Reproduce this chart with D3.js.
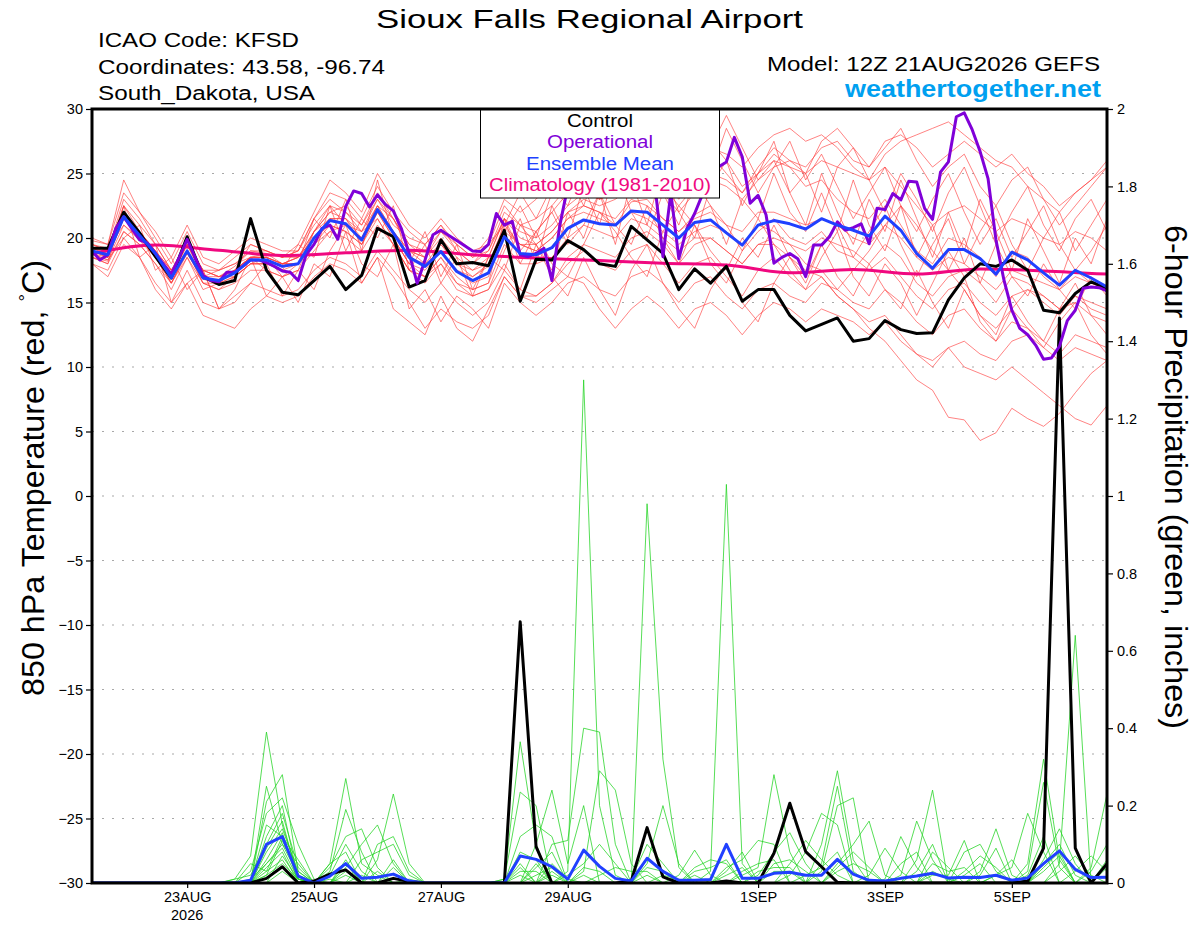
<!DOCTYPE html>
<html>
<head>
<meta charset="utf-8">
<script src="https://cdn.jsdelivr.net/npm/d3@7"></script>
<style>
  body { margin: 0; background: #fff; }
  svg { display: block; font-family: "Liberation Sans", Arial, Helvetica, sans-serif; }
</style>
</head>
<body>
<svg id="chart" width="1200" height="927"></svg>
<script>
// ---- data (6-hourly from 12Z 21AUG2026) ----

// control run, 850 hPa temperature (C)
var controlTemp = [19.2,19.2,22.0,20.4,18.55,16.9,20.1,17.0,16.4,16.7,
  21.5,17.5,15.8,15.6,16.7,17.8,16.0,17.1,20.75,20.1,
  16.2,16.7,19.85,18.0,18.1,17.85,20.6,15.1,18.35,18.3,
  19.8,19.1,18.0,17.8,20.9,19.85,18.8,16.0,17.6,16.5,
  17.8,15.1,16.0,16.0,14.0,12.8,13.3,13.8,12.0,12.2,
  13.6,12.9,12.6,12.65,15.2,16.9,18.0,17.8,18.3,17.5,
  14.4,14.2,15.7,16.6,16.1];

// ensemble mean temperature (C)
var meanTemp = [19.0,18.7,21.65,20.2,18.8,16.9,19.0,16.9,16.7,17.3,
  18.3,18.3,17.8,18.0,20.0,21.35,21.1,19.85,22.2,20.4,
  18.5,17.8,18.95,17.4,16.7,17.3,20.1,18.8,18.7,19.25,
  20.75,21.4,21.1,21.0,22.1,22.0,21.0,20.0,21.2,21.4,
  20.4,19.45,21.0,21.35,21.1,20.7,21.5,21.0,20.6,20.15,
  21.7,20.6,18.8,17.65,19.1,19.1,18.4,17.2,18.9,18.3,
  17.3,16.35,17.5,16.9,16.2];

// operational run, 3-hourly (C)
var operTemp = [19.0,18.3,18.7,20.75,21.65,20.75,19.85,19.6,18.8,18.0,
  17.2,18.5,19.9,18.5,17.1,16.7,16.6,17.35,17.35,17.8,
  18.3,18.3,18.1,17.8,17.45,17.35,16.7,18.7,19.5,20.75,
  21.0,19.9,22.45,23.65,23.45,22.4,23.35,22.6,22.1,20.75,
  18.8,16.5,18.3,20.25,20.6,20.2,19.8,19.4,19.0,18.95,
  19.5,21.9,21.0,21.3,18.7,18.55,18.8,19.2,16.7,21.0,
  24.0,25.5,26.0,25.2,24.5,25.8,26.5,25.0,24.2,25.5,
  26.8,24.0,18.55,23.5,18.4,20.7,21.9,23.4,24.8,25.5,
  25.9,27.8,26.3,22.7,23.3,21.8,18.05,18.5,18.8,18.4,
  17.0,19.45,19.45,20.1,21.25,20.6,20.8,21.1,19.55,22.3,
  22.2,23.45,22.95,24.4,24.35,22.3,21.45,25.1,25.9,29.4,
  29.7,28.4,26.7,24.6,19.85,16.75,14.4,13.0,12.5,11.7,
  10.6,10.7,11.6,13.6,14.4,16.1,16.2,16.15,15.9];

// climatology 1981-2010, daily (C)
var climTemp = [18.8,19.45,19.05,18.65,18.85,19.05,18.7,18.45,18.25,
  18.05,17.9,17.3,17.55,17.2,17.6,17.45,17.2];

// control 6-hour precipitation (in)
var controlPrecip = [0,0,0,0,0,0,0,0,0,0,
  0,0.012,0.042,0,0.005,0.023,0.034,0,0,0.012,
  0.004,0,0,0,0,0,0,0.675,0.094,0,
  0,0,0,0,0.005,0.143,0.016,0,0,0,
  0.005,0,0,0.077,0.206,0.081,0.042,0.002,0,0,
  0,0,0,0,0,0,0,0,0,0.005,
  0.09,1.46,0.09,0,0.05];

// ensemble mean 6-hour precipitation (in)
var meanPrecip = [0,0,0,0,0,0,0,0,0,0,
  0.007,0.10,0.12,0.018,0,0.018,0.05,0.012,0.015,0.023,
  0.005,0,0,0,0,0,0,0.07,0.061,0.042,
  0.01,0.085,0.043,0.012,0.005,0.064,0.03,0.007,0.007,0.009,
  0.10,0.012,0.012,0.025,0.028,0.02,0.02,0.061,0.023,0.007,
  0.005,0.012,0.018,0.025,0.013,0.015,0.014,0.02,0.007,0.013,
  0.05,0.083,0.035,0.014,0.015];

// ensemble members, temperature (C)
var tempMembers = [
  [19.5,19.0,23.0,21.5,19.5,17.5,19.8,17.5,17.0,17.8,19.0,18.8,18.0, 18.5,20.5,22.0,22.5,21.0,23.5,21.5,19.0,18.0,19.5,18.0,17.0,17.8, 20.8,19.5,19.0,20.0,21.5,22.5,22.0,21.0,22.8,23.0,21.5,20.5,21.8,22.5,21.0,19.0,20.5,21.5,20.0,19.5, 20.5,19.0,18.5,17.5,18.5,17.0,15.5,14.5,16.0,16.5,15.0,14.0,15.5,16.0,15.5,14.5,15.0,14.0,13.5],
  [18.5,18.0,20.5,19.5,18.0,16.5,18.5,16.0,16.5,17.5,19.5,19.0,18.5, 19.0,21.5,23.0,22.0,20.5,23.0,21.0,20.0,19.5,21.0,19.0,18.0,19.5, 22.5,21.0,20.5,22.0,23.5,24.5,23.0,24.0,25.5,26.0,24.5,23.0,25.0,26.5,25.0,23.5,25.5,27.0,26.0,25.0, 27.5,28.5,27.0,25.5,27.0,28.5,26.0,24.0,25.5,26.5,24.0,22.5,24.5,25.5,23.0,21.0,22.5,24.0,25.5],
  [18.0,17.5,20.0,18.5,16.5,15.0,17.5,15.0,14.5,15.5,16.5,16.0,15.5, 16.0,17.5,18.5,18.0,17.0,19.0,17.5,16.0,15.0,16.5,15.0,14.0,15.0, 17.5,16.0,15.5,16.5,18.0,19.0,18.0,17.5,19.0,19.5,18.0,16.5,18.0,18.5,17.0,15.5,17.5,18.5,17.0,16.0, 17.0,15.5,14.5,13.5,14.0,12.5,11.0,10.5,11.5,10.0,9.5,9.0,10.0,9.0,8.0,7.0,6.0,5.5,7.0],
  [19.2,18.8,22.5,20.5,19.0,17.0,19.5,17.5,17.0,17.0,18.0,18.5,17.0, 17.5,20.5,22.5,21.0,20.0,22.5,21.5,19.5,18.5,20.5,19.5,18.5,20.0, 23.0,22.0,23.0,24.5,26.0,27.5,26.5,25.5,27.0,28.5,27.0,25.0,26.5,27.5,26.0,24.0,25.0,26.5,25.5,24.0, 24.5,23.0,22.0,21.5,23.0,21.0,19.0,18.0,20.0,19.5,18.5,17.0,19.0,18.5,17.0,16.0,17.5,16.5,16.0],
  [19.5,19.2,21.0,20.0,19.0,17.5,18.8,17.0,17.5,18.0,18.5,17.5,17.0, 18.0,19.5,20.5,21.0,20.5,21.5,19.5,17.5,16.5,18.0,16.0,15.5,16.0, 19.0,21.5,18.0,22.5,20.0,24.0,21.0,25.5,22.0,20.0,23.5,21.0,24.5,22.5,19.5,23.0,21.5,25.0,22.0,20.5, 23.5,20.5,24.5,21.0,19.0,22.5,18.5,21.0,17.5,20.0,16.5,19.5,17.0,15.5,18.0,16.0,14.5,17.0,15.5],
  [19.0,18.5,21.5,20.5,18.5,16.5,19.0,16.5,16.0,17.0,18.0,18.0,18.0, 18.5,20.0,21.5,21.5,19.5,22.0,20.0,18.0,17.0,18.5,17.0,16.0,16.5, 19.5,18.0,18.0,18.5,20.0,21.0,20.5,20.0,21.5,21.0,20.0,19.0,20.0,20.0,19.0,18.0,19.5,19.5,18.5,17.5, 17.0,15.5,14.5,13.0,12.0,10.5,9.0,8.2,6.1,5.9,4.3,4.9,6.8,6.0,5.4,6.4,8.0,9.5,10.5],
  [20.0,19.5,24.5,22.0,20.0,18.0,20.5,18.0,17.5,18.5,19.5,19.0,18.5, 19.5,22.0,24.5,23.5,22.0,25.0,23.0,21.0,20.0,21.5,20.0,19.0,19.5, 21.0,23.5,21.5,24.0,22.5,25.5,23.0,26.5,28.0,25.5,29.0,30.5,27.5,25.0,28.5,26.0,23.5,25.5,27.5,24.5, 26.5,24.0,21.5,23.5,25.5,22.5,20.5,23.0,25.0,22.0,19.5,21.5,18.5,20.5,22.5,19.5,17.5,19.0,21.0],
  [18.5,18.0,22.5,18.5,19.5,15.0,16.5,17.5,14.5,15.0,16.5,18.0,15.5, 17.5,16.0,19.0,21.0,18.0,17.0,19.5,14.5,16.0,13.5,15.5,14.5,13.0, 16.5,15.0,14.0,15.0,16.5,17.0,16.0,15.5,17.0,17.5,16.5,15.0,16.5,17.0,15.5,14.5,16.0,16.5,15.5,15.0, 16.5,16.0,15.0,14.5,16.0,15.0,13.5,12.5,14.0,14.5,13.0,12.0,13.5,13.0,12.0,11.0,12.5,12.0,11.5],
  [19.0,18.7,22.0,20.0,18.5,17.0,19.5,17.0,16.5,17.5,18.5,18.5,18.0, 18.0,20.5,21.5,21.0,20.0,22.5,20.5,18.5,18.0,19.0,17.5,17.0,18.0, 20.5,19.5,19.5,20.5,22.0,23.0,22.5,23.0,24.0,24.5,23.5,22.0,23.5,24.5,24.0,23.0,24.5,25.5,26.0,25.5, 27.0,27.5,26.0,25.5,27.5,28.0,27.0,25.5,26.5,27.5,26.5,25.5,26.5,25.0,24.0,22.5,23.5,24.5,26.0],
  [19.3,18.5,22.0,20.5,18.8,16.5,19.0,17.0,16.5,17.0,18.0,18.0,17.5, 19.5,18.5,22.5,19.0,21.5,20.0,22.5,17.5,19.5,16.5,18.5,15.5,18.5, 17.5,21.0,19.5,17.5,22.0,20.0,23.5,19.5,24.5,21.0,25.5,22.0,20.0,24.0,26.0,22.5,25.0,27.5,23.5,21.0, 25.0,22.0,19.5,23.0,20.5,24.5,21.5,18.5,22.0,19.0,23.0,20.5,17.5,21.5,19.0,16.5,20.0,18.0,21.5],
  [18.8,18.5,21.5,20.0,18.5,17.0,19.0,16.5,16.5,17.5,18.5,18.5,18.0, 18.5,20.0,21.5,21.5,20.0,22.0,20.5,19.0,18.5,19.5,18.0,17.5,18.0, 21.0,19.5,19.0,20.0,21.5,22.0,21.5,21.0,22.0,21.5,20.5,19.5,20.5,21.0,20.5,19.5,21.0,20.5,19.5,18.0, 17.5,16.0,17.5,19.0,21.0,22.5,21.0,19.0,17.5,16.0,14.0,13.0,14.5,16.0,15.0,14.0,15.5,14.5,14.0],
  [19.5,19.0,22.5,21.0,19.5,17.5,19.5,17.5,17.5,18.0,19.0,19.0,18.5, 19.0,21.0,22.5,22.0,21.0,23.0,21.5,19.5,19.0,20.5,19.0,18.0,19.0, 22.0,21.0,21.5,22.5,24.0,25.0,25.5,26.0,27.0,27.5,26.5,25.0,26.0,27.0,26.5,25.5,27.0,28.0,28.5,27.5, 28.0,27.0,25.5,24.5,25.5,24.0,22.5,21.0,22.0,22.5,21.5,20.5,21.5,21.0,20.0,19.5,20.5,20.0,19.0],
  [18.5,18.2,20.5,19.5,18.0,16.0,18.5,16.5,16.0,16.5,17.5,17.5,17.0, 17.5,19.0,20.5,20.0,19.0,21.0,19.5,17.5,17.0,18.5,16.5,16.0,16.5, 21.5,19.0,20.5,18.0,17.0,19.5,22.0,20.5,18.5,17.0,20.5,22.5,21.0,18.0,16.5,19.0,21.5,19.5,17.5,16.0, 18.5,20.5,17.0,15.5,18.0,16.5,14.0,16.5,19.0,17.0,13.5,12.0,14.5,13.0,11.5,13.5,15.0,12.5,11.0],
  [18.0,17.0,19.5,18.5,16.0,14.5,16.5,14.0,13.5,13.0,14.5,15.5,15.0, 15.5,17.0,18.0,17.5,16.5,18.5,17.0,15.0,13.0,14.5,13.5,13.0,14.0, 17.0,15.5,15.5,16.5,18.5,19.5,19.0,18.5,20.0,20.5,19.5,18.0,19.5,20.0,19.0,18.0,19.5,20.0,19.5,19.0, 20.0,19.5,19.0,18.0,19.5,18.5,16.5,15.5,17.0,17.5,16.5,15.0,17.0,16.5,15.5,14.5,15.5,15.0,14.5],
  [19.8,19.5,23.5,22.0,20.5,18.5,21.0,18.5,18.0,19.0,20.0,19.5,19.0, 19.0,21.5,23.5,23.0,21.5,24.0,22.0,20.5,19.5,21.0,19.5,18.5,19.0, 21.5,20.0,19.5,20.5,22.0,22.5,22.0,21.5,23.0,22.5,21.5,20.5,21.5,22.0,21.0,20.5,22.0,22.0,21.5,21.0, 21.5,21.0,20.0,19.5,21.0,20.0,18.5,17.5,18.5,18.0,17.0,16.0,17.5,17.0,16.5,16.0,17.0,16.5,16.0],
  [19.0,18.8,21.5,20.0,18.8,17.0,18.8,16.8,16.5,17.0,18.0,18.0,17.5, 18.0,19.5,21.0,20.5,19.5,22.0,20.0,18.0,17.5,19.0,17.5,16.5,17.0, 20.5,22.5,20.0,23.5,25.0,22.5,26.0,24.0,27.5,25.0,28.5,26.5,24.0,27.0,29.5,27.0,24.5,26.0,23.5,25.0, 22.0,25.5,27.0,24.5,22.0,25.0,23.0,20.5,23.5,25.5,22.5,19.5,22.0,24.0,21.0,19.0,21.5,23.0,20.5],
  [18.7,18.3,20.0,21.0,17.5,18.5,16.0,17.5,14.5,16.0,18.5,15.5,17.0, 15.0,18.0,17.0,20.5,16.5,18.5,14.5,13.5,12.5,15.5,13.0,12.0,14.5, 17.0,15.5,15.0,16.0,17.0,16.5,14.5,13.0,14.5,15.5,14.5,13.0,14.5,15.0,14.0,12.5,14.0,15.0,14.5,13.5, 14.5,14.0,13.5,12.5,13.5,12.0,11.0,10.0,11.5,12.0,11.0,10.5,12.0,12.5,11.5,10.5,11.5,11.0,10.5],
  [19.2,19.0,22.0,20.5,19.0,17.0,19.5,17.0,17.0,17.5,18.5,18.5,18.0, 18.0,21.5,20.0,23.0,19.0,24.5,20.0,18.0,20.5,17.0,19.5,16.0,18.5, 21.5,18.0,20.5,22.0,19.5,21.0,23.5,21.0,19.5,22.5,20.0,18.0,21.0,19.0,17.5,20.0,18.5,21.0,18.5,16.5, 19.5,17.0,15.5,18.0,16.0,14.5,17.5,15.0,13.0,16.0,14.0,12.5,15.5,13.5,12.0,14.5,16.5,14.0,12.5],
  [19.0,18.5,22.0,20.5,19.0,17.5,19.5,17.5,17.0,17.5,18.5,18.8,18.5, 18.5,20.5,22.0,21.5,20.5,22.5,20.5,19.0,18.5,20.0,18.5,17.5,18.5, 21.5,20.5,20.0,21.0,22.5,23.5,23.0,23.5,24.5,25.0,24.0,22.5,24.0,25.0,24.5,23.5,25.0,26.0,25.5,25.0, 26.0,25.5,25.0,24.5,26.5,27.5,28.0,28.5,29.0,28.0,27.0,26.0,25.5,24.0,23.0,22.0,23.5,24.5,25.5],
  [18.8,18.3,21.0,19.8,18.5,16.5,18.8,16.8,16.8,17.5,18.5,18.5,18.0, 18.0,20.0,21.0,20.5,19.5,21.5,19.5,17.5,17.0,18.0,16.5,15.5,16.0, 18.0,16.0,19.5,17.0,15.5,18.5,16.0,14.0,17.5,19.5,16.5,14.5,13.0,16.0,18.0,15.0,13.5,16.5,18.5,17.0, 19.5,21.0,18.5,20.5,22.5,19.5,17.0,19.5,21.5,18.0,20.5,22.5,19.5,17.5,20.0,22.0,19.0,21.0,23.0]
];

// ensemble members, 6-hour precipitation (in)
var precipMembers = [
  [0,0,0,0,0,0,0,0,0,0.01, 0.07,0.39,0.15,0.02,0,0,0.02,0,0,0, 0,0,0,0,0,0,0,0,0.05,0, 0.02,0.05,0.1,0.05,0,0,0,0,0,0, 0,0,0,0.05,0.06,0.03,0,0,0,0, 0,0,0,0,0,0.08,0.1,0.03,0,0, 0,0,0,0,0],
  [0,0,0,0,0,0,0,0,0,0, 0,0.25,0.1,0.05,0,0.05,0.27,0.05,0.02,0, 0,0,0,0,0,0,0,0.05,0,0.02, 0,0,0,0,0,0,0,0.02,0.085,0.02, 0,0,0,0,0,0,0,0.03,0.05,0.03, 0,0,0,0,0,0,0,0,0,0.05, 0.32,0.06,0,0,0],
  [0,0,0,0,0,0,0,0,0,0, 0,0.21,0.28,0.03,0,0,0.03,0,0,0.06, 0,0,0,0,0,0,0,0.02,0,0, 0,0,0,0,0,0.04,0.03,0,0,0, 0,0.03,0.05,0.06,0,0,0,0,0,0, 0,0,0,0.05,0.03,0.04,0,0,0,0, 0,0,0,0.03,0.1],
  [0,0,0,0,0,0,0,0,0,0, 0.03,0.18,0.22,0.1,0.01,0,0,0,0,0, 0,0,0,0,0,0,0,0.12,0.15,0.12, 0,0,0,0,0,0,0,0,0.03,0.04, 0.06,0,0,0,0,0,0.05,0.25,0.03,0, 0,0,0,0,0,0,0,0,0,0, 0.06,0.14,0.05,0,0],
  [0,0,0,0,0,0,0,0,0,0, 0,0.15,0.12,0.02,0,0.03,0.19,0.08,0,0, 0,0,0,0,0,0,0,0,0,0.1, 0.11,0.4,0.39,0.1,0,0,0,0,0,0, 0,0,0,0,0,0,0,0,0,0, 0,0.02,0.16,0.06,0,0,0,0,0,0, 0,0,0.03,0.07,0.03],
  [0,0,0,0,0,0,0,0,0,0, 0,0.12,0.2,0.01,0,0,0,0,0.06,0.23, 0.05,0,0,0,0,0,0,0,0,0, 0,0.03,0.29,0.24,0.05,0,0,0,0,0, 0,0,0,0,0,0.02,0.04,0.08,0,0, 0,0,0,0,0,0.03,0.07,0.04,0,0, 0,0,0,0,0],
  [0,0,0,0,0,0,0,0,0,0.01, 0.02,0.1,0.18,0.04,0,0,0.05,0,0,0, 0,0,0,0,0,0,0.01,0.365,0.1,0, 0,0,0,0,0,0,0,0,0,0, 0.02,0.04,0,0,0,0,0,0,0,0.02, 0.09,0.03,0,0,0,0,0,0,0,0.02, 0.12,0,0,0,0],
  [0,0,0,0,0,0,0,0,0,0, 0,0.09,0.16,0.01,0,0,0,0.02,0,0, 0.01,0,0,0,0,0,0,0.03,0.03,0, 0,0,0,0,0,0.98,0.32,0.04,0,0, 0,0,0,0,0,0,0,0,0,0, 0,0,0.03,0.1,0,0,0,0,0,0, 0,0,0,0,0.06],
  [0,0,0,0,0,0,0,0,0,0, 0,0.08,0.14,0.03,0,0.04,0.12,0.14,0.04,0, 0,0,0,0,0,0,0,0,0,0, 0,0.04,0.03,0,0,0,0,0,0.02,0, 0,0,0.03,0.04,0.04,0,0,0,0,0, 0,0,0,0.03,0.01,0,0,0,0,0.03, 0.26,0.04,0,0,0],
  [0,0,0,0,0,0,0,0,0,0, 0,0.06,0.13,0,0,0.01,0,0,0,0, 0,0,0,0,0,0,0,0.08,0.06,0, 0,0,0,0,0.01,0.1,0.05,0,0,0, 0,0,0,0,0.02,0.08,0.18,0.15,0,0, 0,0,0,0,0,0,0.03,0.14,0.02,0, 0,0,0,0,0],
  [0,0,0,0,0,0,0,0,0,0, 0,0.05,0.1,0.02,0,0,0.04,0.1,0.15,0.05, 0,0,0,0,0,0,0,0,0.02,0.04, 0,0,0,0,0,0,0,0,0,0, 0.03,0.08,0,0,0,0,0,0.05,0.1,0.16, 0.02,0,0,0,0,0,0,0,0,0, 0.05,0.1,0.02,0,0],
  [0,0,0,0,0,0,0,0,0,0, 0.01,0.05,0.09,0.01,0,0,0,0,0.03,0, 0,0,0,0,0,0,0,0,0.04,0.08, 0,0,0,0,0,0,0.02,0.01,0,0, 0,0,0.02,0.08,0.13,0.05,0,0,0,0, 0,0,0,0.08,0.04,0,0,0,0,0, 0,0,0,0,0],
  [0,0,0,0,0,0,0,0,0,0, 0,0.04,0.08,0,0,0.02,0.1,0.03,0,0, 0,0,0,0,0,0,0,0,0,0, 0.03,1.3,0.2,0.02,0,0,0,0,0,0, 0,0,0,0,0,0,0,0.04,0.08,0.04, 0,0,0,0,0,0.02,0.05,0,0,0, 0,0,0,0.04,0.23],
  [0,0,0,0,0,0,0,0,0,0, 0,0.03,0.12,0.06,0,0,0,0,0,0, 0,0,0,0,0,0,0.01,0.235,0.2,0, 0,0,0,0,0,0,0,0,0,0.03, 1.03,0.05,0,0,0,0,0,0,0,0, 0.01,0.12,0.04,0,0,0,0,0,0,0, 0.03,0.07,0,0,0],
  [0,0,0,0,0,0,0,0,0,0, 0.05,0.03,0.06,0,0,0,0,0,0.1,0.12, 0.03,0,0,0,0,0,0,0,0,0, 0,0.02,0,0,0,0.02,0,0,0,0, 0,0,0,0,0.05,0.11,0.06,0.02,0,0, 0,0,0,0,0,0,0,0.02,0.04,0.18, 0.08,0,0,0,0],
  [0,0,0,0,0,0,0,0,0,0, 0,0.02,0.05,0.01,0,0.05,0.08,0,0,0, 0,0,0,0,0,0,0,0,0,0.05, 0.01,0,0,0,0,0,0,0,0.04,0.06, 0.05,0,0,0,0,0,0.1,0.29,0.06,0, 0,0,0,0,0,0,0.02,0.09,0,0, 0,0.05,0.64,0,0],
  [0,0,0,0,0,0,0,0,0,0, 0,0.02,0.11,0.02,0,0,0,0,0,0, 0,0,0,0,0,0,0,0.04,0,0, 0,0,0,0,0,0.05,0.2,0.05,0,0, 0,0,0,0,0,0,0.03,0.2,0.22,0, 0,0,0,0,0,0,0,0.02,0.06,0, 0,0,0,0,0],
  [0,0,0,0,0,0,0,0,0,0, 0,0.01,0.04,0,0,0,0.06,0,0,0, 0,0,0,0,0,0,0,0,0,0.03, 0,0,0,0,0,0,0,0,0,0, 0.04,0.06,0.11,0.1,0,0,0,0,0,0, 0,0,0,0.02,0.02,0.11,0,0,0,0, 0,0,0,0,0.04],
  [0,0,0,0,0,0,0,0,0,0, 0,0,0.07,0.01,0,0,0,0,0,0.04, 0,0,0,0,0,0,0,0,0.1,0.24, 0.05,0.2,0,0,0,0,0,0,0,0, 0,0.02,0.04,0.28,0.08,0,0,0,0,0, 0,0.05,0.08,0,0,0,0,0,0,0, 0.04,0.08,0,0,0],
  [0,0,0,0,0,0,0,0,0,0, 0,0,0.03,0,0,0,0,0.06,0.08,0.1, 0.02,0,0,0,0,0,0,0,0,0, 0,0,0.02,0.04,0.03,0.03,0,0,0,0, 0,0,0,0.03,0.03,0,0,0,0,0, 0,0,0.06,0.24,0,0,0,0,0,0, 0,0.03,0.07,0.02,0]
];

// axis tick values and labels
var tempTicks = [-30,-25,-20,-15,-10,-5,0,5,10,15,20,25,30];
var precipTicks = [0,0.2,0.4,0.6,0.8,1,1.2,1.4,1.6,1.8,2];
var dateTicks = ["2026-08-23","2026-08-25","2026-08-27","2026-08-29","2026-09-01","2026-09-03","2026-09-05"];

var legendItems = [
  {label: "Control", color: "#000000", width: 66},
  {label: "Operational", color: "#8000d8", width: 106},
  {label: "Ensemble Mean", color: "#2040ff", width: 148},
  {label: "Climatology (1981-2010)", color: "#f0087f", width: 222}
];

// ---- drawing ----
(function() {
  var HOUR = 3600 * 1000;
  var start = Date.UTC(2026, 7, 21, 12);
  function at6(i) { return new Date(start + i * 6 * HOUR); }
  function at3(j) { return new Date(start + j * 3 * HOUR); }
  function atDay(d) { return new Date(start + d * 24 * HOUR); }

  var pLeft = 92, pRight = 1107, pTop = 109, pBottom = 883;

  var x = d3.scaleUtc().domain([at6(0), at6(64)]).range([pLeft, pRight]);
  var yT = d3.scaleLinear().domain([-30, 30]).range([pBottom, pTop]);
  var yP = d3.scaleLinear().domain([0, 2]).range([pBottom, pTop]);

  var svg = d3.select("#chart");

  svg.append("defs").append("clipPath").attr("id", "plotClip")
    .append("rect").attr("x", pLeft).attr("y", pTop)
    .attr("width", pRight - pLeft).attr("height", pBottom - pTop);

  // dotted grid at temperature ticks
  svg.append("g").selectAll("line")
    .data(tempTicks.filter(function(v) { return v > -30 && v < 30; }))
    .enter().append("line")
    .attr("x1", pLeft).attr("x2", pRight)
    .attr("y1", function(d) { return yT(d); }).attr("y2", function(d) { return yT(d); })
    .attr("stroke", "#a8a8a8").attr("stroke-width", 1.2)
    .attr("stroke-dasharray", "2,8");

  var plot = svg.append("g").attr("clip-path", "url(#plotClip)");

  var line6T = d3.line().x(function(d, i) { return x(at6(i)); }).y(function(d) { return yT(d); });
  var line6P = d3.line().x(function(d, i) { return x(at6(i)); }).y(function(d) { return yP(d); });
  var line3T = d3.line().x(function(d, j) { return x(at3(j)); }).y(function(d) { return yT(d); });
  var lineDayT = d3.line().x(function(d, k) { return x(atDay(k)); }).y(function(d) { return yT(d); })
    .curve(d3.curveMonotoneX);

  plot.append("g").selectAll("path").data(tempMembers).enter().append("path")
    .attr("d", line6T).attr("fill", "none")
    .attr("stroke", "#ff3a3a").attr("stroke-opacity", 0.7).attr("stroke-width", 0.9);

  plot.append("g").selectAll("path").data(precipMembers).enter().append("path")
    .attr("d", line6P).attr("fill", "none")
    .attr("stroke", "#22d422").attr("stroke-opacity", 0.85).attr("stroke-width", 0.9);

  function thick(g, d, gen, color) {
    g.append("path").datum(d).attr("d", gen).attr("fill", "none")
      .attr("stroke", color).attr("stroke-width", 3)
      .attr("stroke-linejoin", "round");
  }

  thick(plot, climTemp, lineDayT, legendItems[3].color);
  thick(plot, controlPrecip, line6P, legendItems[0].color);
  thick(plot, controlTemp, line6T, legendItems[0].color);
  thick(plot, operTemp, line3T, legendItems[1].color);
  thick(plot, meanPrecip, line6P, legendItems[2].color);
  thick(plot, meanTemp, line6T, legendItems[2].color);

  // legend box
  var legend = svg.append("g");
  legend.append("rect").attr("x", 480.5).attr("y", pTop).attr("width", 239).attr("height", 89)
    .attr("fill", "#fff").attr("stroke", "#000").attr("stroke-width", 1);
  legend.selectAll("text").data(legendItems).enter().append("text")
    .attr("x", 600).attr("y", function(d, i) { return 127 + i * 21.4; })
    .attr("text-anchor", "middle").attr("font-size", 17.5)
    .attr("textLength", function(d) { return d.width; }).attr("lengthAdjust", "spacingAndGlyphs")
    .attr("fill", function(d) { return d.color; })
    .text(function(d) { return d.label; });

  // frame
  svg.append("rect").attr("x", pLeft).attr("y", pTop)
    .attr("width", pRight - pLeft).attr("height", pBottom - pTop)
    .attr("fill", "none").attr("stroke", "#000").attr("stroke-width", 3);

  // axes
  var parseDay = d3.utcParse("%Y-%m-%d");
  var fmtDay = d3.utcFormat("%-d%b");

  var axL = svg.append("g").attr("transform", "translate(" + pLeft + ",0)")
    .call(d3.axisLeft(yT).tickValues(tempTicks).tickSize(6).tickPadding(3));
  var axR = svg.append("g").attr("transform", "translate(" + pRight + ",0)")
    .call(d3.axisRight(yP).tickValues(precipTicks).tickSize(6).tickPadding(4)
      .tickFormat(d3.format("~g")));
  var axB = svg.append("g").attr("transform", "translate(0," + pBottom + ")")
    .call(d3.axisBottom(x).tickValues(dateTicks.map(parseDay)).tickSize(5).tickPadding(4)
      .tickFormat(function(d) { return fmtDay(d).toUpperCase(); }));

  [axL, axR, axB].forEach(function(a) {
    a.select(".domain").remove();
    a.selectAll(".tick line").attr("stroke", "#000").attr("stroke-width", 1.2);
    a.selectAll(".tick text").attr("font-size", 14.5).attr("fill", "#000")
      .attr("font-family", "'Liberation Sans', Arial, sans-serif");
  });

  svg.append("text").attr("x", x(parseDay(dateTicks[0]))).attr("y", 920)
    .attr("text-anchor", "middle").attr("font-size", 14.5).text("2026");

  // axis titles
  var tl = svg.append("text").attr("transform", "translate(43.5,478) rotate(-90)")
    .attr("text-anchor", "middle").attr("font-size", 31)
    .attr("textLength", 436).attr("lengthAdjust", "spacingAndGlyphs");
  tl.append("tspan").text("850 hPa Temperature (red, ");
  tl.append("tspan").attr("font-size", 18).attr("dy", -12).text("\u00B0");
  tl.append("tspan").attr("dy", 12).text("C)");

  svg.append("text").attr("transform", "translate(1165,477) rotate(90)")
    .attr("text-anchor", "middle").attr("font-size", 31)
    .attr("textLength", 504).attr("lengthAdjust", "spacingAndGlyphs")
    .text("6-hour Precipitation (green, inches)");

  // header
  svg.append("text").attr("x", 589.5).attr("y", 28).attr("text-anchor", "middle")
    .attr("font-size", 26.5).attr("textLength", 427).attr("lengthAdjust", "spacingAndGlyphs")
    .text("Sioux Falls Regional Airport");

  var info = [
    {t: "ICAO Code: KFSD", w: 201},
    {t: "Coordinates: 43.58, -96.74", w: 287},
    {t: "South_Dakota, USA", w: 217}
  ];
  svg.append("g").selectAll("text").data(info).enter().append("text")
    .attr("x", 98).attr("y", function(d, i) { return 47 + i * 26.5; })
    .attr("font-size", 20).attr("textLength", function(d) { return d.w; })
    .attr("lengthAdjust", "spacingAndGlyphs")
    .text(function(d) { return d.t; });

  svg.append("text").attr("x", 1100).attr("y", 71).attr("text-anchor", "end")
    .attr("font-size", 20).attr("textLength", 333).attr("lengthAdjust", "spacingAndGlyphs")
    .text("Model: 12Z 21AUG2026 GEFS");
  svg.append("text").attr("x", 1101).attr("y", 97).attr("text-anchor", "end")
    .attr("font-size", 23).attr("font-weight", "bold").attr("fill", "#00a0f0")
    .attr("textLength", 256).attr("lengthAdjust", "spacingAndGlyphs")
    .text("weathertogether.net");
})();
</script>
</body>
</html>
